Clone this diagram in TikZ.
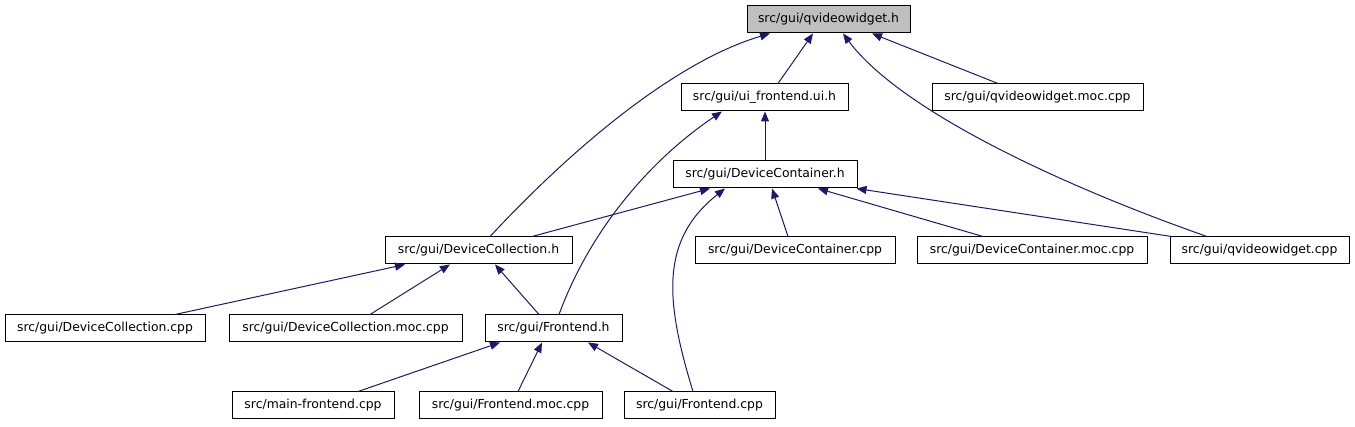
\documentclass[tikz,border=0pt]{standalone}
\usepackage{fontspec}
\setmainfont{DejaVu Sans}
\usetikzlibrary{arrows.meta}
\definecolor{edgecol}{HTML}{191970}
\definecolor{rootfill}{HTML}{BFBFBF}
\tikzset{
  box/.style={draw=black, line width=1pt, fill=white, minimum height=27pt, inner sep=0pt,
    font=\fontsize{12.4}{14}\selectfont},
  rootbox/.style={box, fill=rootfill},
  dep/.style={draw=edgecol, line width=1pt, -{Triangle[length=10pt,width=8pt]}, edgecol},
}
\begin{document}
\begin{tikzpicture}[x=1pt,y=-1pt]
\useasboundingbox (0,0) rectangle (1355,427);
\node[rootbox, minimum width=163pt] (qvwh) at (828.5,19.5) {src/gui/qvideowidget.h};
\node[box, minimum width=167pt] (ui) at (764.5,97.5) {src/gui/ui\_frontend.ui.h};
\node[box, minimum width=211pt] (qvwmoc) at (1037.5,97.5) {src/gui/qvideowidget.moc.cpp};
\node[box, minimum width=184pt] (dch) at (765,174.5) {src/gui/DeviceContainer.h};
\node[box, minimum width=187pt] (dcolh) at (478.5,250.5) {src/gui/DeviceCollection.h};
\node[box, minimum width=200pt] (dccpp) at (795,250.5) {src/gui/DeviceContainer.cpp};
\node[box, minimum width=230pt] (dcmoc) at (1032,250.5) {src/gui/DeviceContainer.moc.cpp};
\node[box, minimum width=179pt] (qvwcpp) at (1259.5,250.5) {src/gui/qvideowidget.cpp};
\node[box, minimum width=200pt] (dcolcpp) at (105,328.5) {src/gui/DeviceCollection.cpp};
\node[box, minimum width=233pt] (dcolmoc) at (345.5,328.5) {src/gui/DeviceCollection.moc.cpp};
\node[box, minimum width=137pt] (feh) at (553.5,328.5) {src/gui/Frontend.h};
\node[box, minimum width=162pt] (mainfe) at (313,405.5) {src/main-frontend.cpp};
\node[box, minimum width=183pt] (femoc) at (510.5,405.5) {src/gui/Frontend.moc.cpp};
\node[box, minimum width=151pt] (fecpp) at (699.5,405.5) {src/gui/Frontend.cpp};

% to qvideowidget.h
\draw[dep] ([xshift=13.5pt]ui.north) -- ([xshift=-15.5pt]qvwh.south);
\draw[dep] ([xshift=-39.5pt]qvwmoc.north) -- ([xshift=43.5pt]qvwh.south);
\draw[dep] ([xshift=11.5pt]dcolh.north) .. controls (580,140) and (680,60) .. ([xshift=-58.5pt]qvwh.south);
\draw[dep] ([xshift=-52.5pt]qvwcpp.north) .. controls (1060,185) and (900,110) .. ([xshift=14.5pt]qvwh.south);
% to ui_frontend.ui.h
\draw[dep] (dch.north) -- (dch.north |- ui.south);
\draw[dep] ([xshift=5.5pt]feh.north) .. controls (590,230) and (650,160) .. ([xshift=-42.5pt]ui.south);
% to DeviceContainer.h
\draw[dep] ([xshift=53.5pt]dcolh.north) -- ([xshift=-55pt]dch.south);
\draw[dep] ([xshift=-7pt]dccpp.north) -- ([xshift=7pt]dch.south);
\draw[dep] ([xshift=-49pt]dcmoc.north) -- ([xshift=53pt]dch.south);
\draw[dep] ([xshift=2pt]qvwcpp.north west) -- ([xshift=-1pt]dch.south east);
\draw[dep] ([xshift=-6.5pt]fecpp.north) .. controls (665,300) and (660,240) .. ([xshift=-40pt]dch.south);
% to DeviceCollection.h
\draw[dep] ([xshift=70pt]dcolcpp.north) -- ([xshift=-73.5pt]dcolh.south);
\draw[dep] ([xshift=24.5pt]dcolmoc.north) -- ([xshift=-28.5pt]dcolh.south);
\draw[dep] ([xshift=-14.5pt]feh.north) -- ([xshift=16.5pt]dcolh.south);
% to Frontend.h
\draw[dep] ([xshift=45pt]mainfe.north) -- ([xshift=-53.5pt]feh.south);
\draw[dep] ([xshift=7.5pt]femoc.north) -- ([xshift=-11.5pt]feh.south);
\draw[dep] ([xshift=-26.5pt]fecpp.north) -- ([xshift=34.5pt]feh.south);
\end{tikzpicture}
\end{document}
